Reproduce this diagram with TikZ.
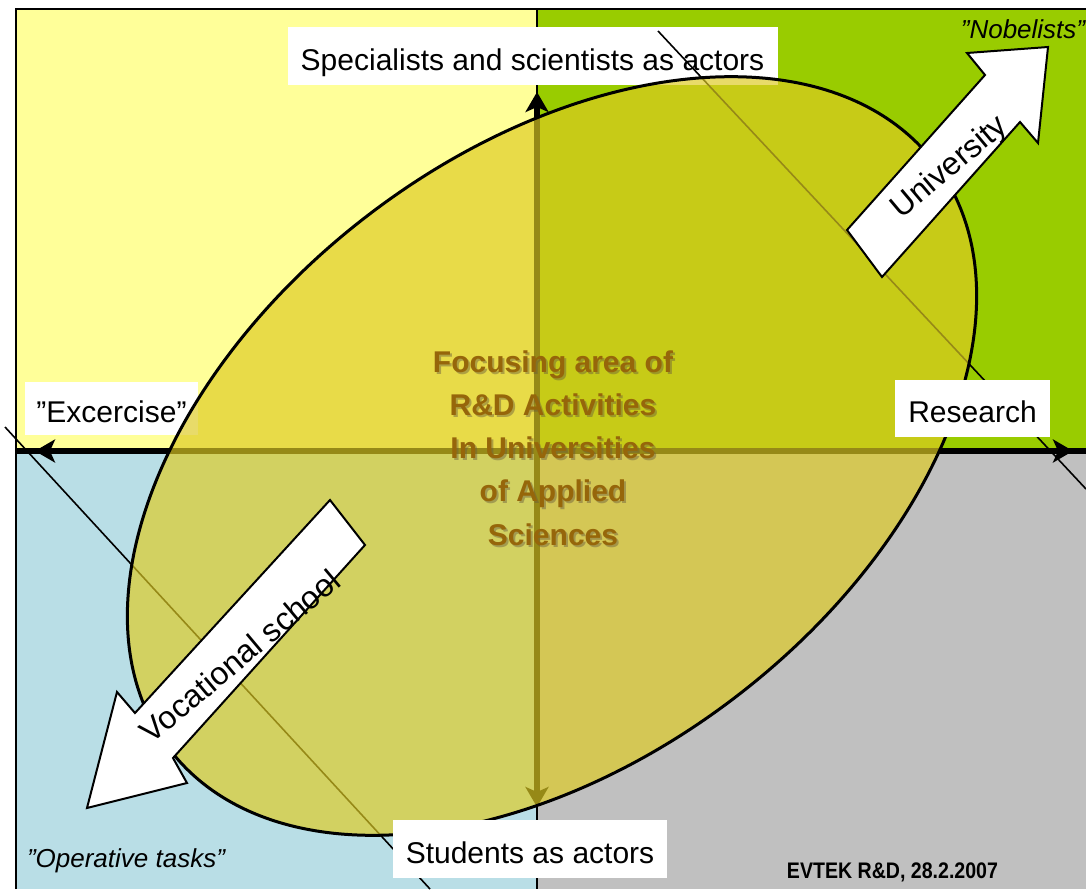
\documentclass[tikz,border=0pt]{standalone}
\usepackage{fontspec}
\usepackage{graphicx}
\setmainfont{Liberation Sans}
\usetikzlibrary{arrows.meta}

\definecolor{quadTL}{RGB}{255,255,153}
\definecolor{quadTR}{RGB}{153,204,0}
\definecolor{quadBL}{RGB}{185,222,230}
\definecolor{quadBR}{RGB}{192,192,192}
\definecolor{focusfill}{RGB}{222,203,35}
\definecolor{focustext}{RGB}{150,102,10}
\definecolor{focusshadow}{RGB}{105,90,60}

\begin{document}
\begin{tikzpicture}[x=1pt,y=-1pt,
  >={Stealth[length=20pt,width=23pt,inset=5pt]},
  labelbox/.style={fill=white, inner sep=0pt, minimum height=58pt,
    text height=28pt, text depth=0pt, font=\fontsize{30}{34}\selectfont},
  frameline/.style={line width=2pt, black},
  divider/.style={line width=1.5pt, black},
  haxis/.style={line width=6.5pt, black},
  vaxis/.style={line width=5.5pt, black},
  guide/.style={line width=1.6pt, black},
  focusarea/.style={draw=black, line width=3pt, fill=focusfill, fill opacity=0.68},
  focuslbl/.style={anchor=base, inner sep=0pt, text=focustext,
    font=\fontsize{30}{34}\selectfont\bfseries},
  bigarrow/.style={fill=white, draw=black, line width=2pt, line join=miter},
  arrowlbl/.style={inner sep=0pt, rotate=40, font=\fontsize{32}{36}\selectfont},
  cornerlbl/.style={anchor=base, inner sep=0pt, font=\fontsize{26}{30}\selectfont\itshape}
]
\useasboundingbox (0,0) rectangle (1086,889);
\fill[white] (0,0) rectangle (1086,889);

% grid corners of the four fields
\coordinate (nw) at (16,9);   \coordinate (n) at (537,9);   \coordinate (ne) at (1086,9);
\coordinate (w)  at (16,451); \coordinate (c) at (537,451); \coordinate (e)  at (1086,451);
\coordinate (sw) at (16,889); \coordinate (s) at (537,889); \coordinate (se) at (1086,889);

% the four fields
\fill[quadTL] (nw) rectangle (c);
\fill[quadTR] (n) rectangle (e);
\fill[quadBL] (w) rectangle (s);
\fill[quadBR] (c) rectangle (se);
\draw[frameline] (sw) -- (nw) -- (ne);
\draw[divider] (n) -- (s);

% labels lying below the focus area
\node[labelbox, minimum width=490pt] (actorsTop) at (532.5,56) {Specialists and scientists as actors};
\node[labelbox, minimum width=173pt, minimum height=53pt] (exercise) at (111.5,408.5) {"Excercise”};

% the two slanted guide lines
\coordinate (g1a) at (5,427);   \coordinate (g1b) at (430,889);
\coordinate (g2a) at (658,31);  \coordinate (g2b) at (1086,489);
\draw[guide] (g1a) -- (g1b);
\draw[guide] (g2a) -- (g2b);

% axes
\coordinate (htipL) at (35,451);  \coordinate (htipR) at (1073,451);
\coordinate (vtipB) at (537,807); \coordinate (vtipT) at (537,92);
\draw[haxis] (w) -- (e);
\draw[haxis,<->] (htipL) -- (htipR);
\draw[vaxis,<->] (vtipB) -- (vtipT);

% focus area
\coordinate (fc) at (552,456);
\path[focusarea, rotate around={37.5:(fc)}] (fc) ellipse [x radius=482, y radius=303];

% text in the focus area
\foreach \txt [count=\i] in {Focusing area of, R\&D Activities, In Universities, of Applied, Sciences} {
  \node[focuslbl, text=focusshadow, text opacity=0.45] (shade\i) at (555, {374+43.3*(\i-1)}) {\txt};
  \node[focuslbl] (focus\i) at (553, {372+43.3*(\i-1)}) {\txt};
}

% labels above the focus area
\node[labelbox, minimum width=155pt, minimum height=57pt] (research) at (972.5,408.5) {Research};
\node[labelbox, minimum width=274pt] (students) at (530,849) {Students as actors};

% direction arrows
\draw[bigarrow] (847,230) -- (985,75) -- (967,53) -- (1048,47) -- (1038,143)
  -- (1020,122) -- (882,277) -- cycle;
\node[arrowlbl] (university) at (950,168) {University};

\draw[bigarrow] (330,500) -- (135,713) -- (117,692) -- (87,808) -- (187,783)
  -- (173,758) -- (365,545) -- cycle;
\node[arrowlbl] (vocational) at (240,656) {Vocational school};

% corner texts
\node[cornerlbl] (nobel) at (1023,38) {”Nobelists”};
\node[cornerlbl] (operative) at (126,867) {”Operative tasks”};
\node[anchor=base, inner sep=0pt, font=\fontsize{22.5}{26}\selectfont\bfseries] (source) at (892.5,878)
  {\scalebox{0.87}[1]{EVTEK R\&D, 28.2.2007}};
\end{tikzpicture}
\end{document}
